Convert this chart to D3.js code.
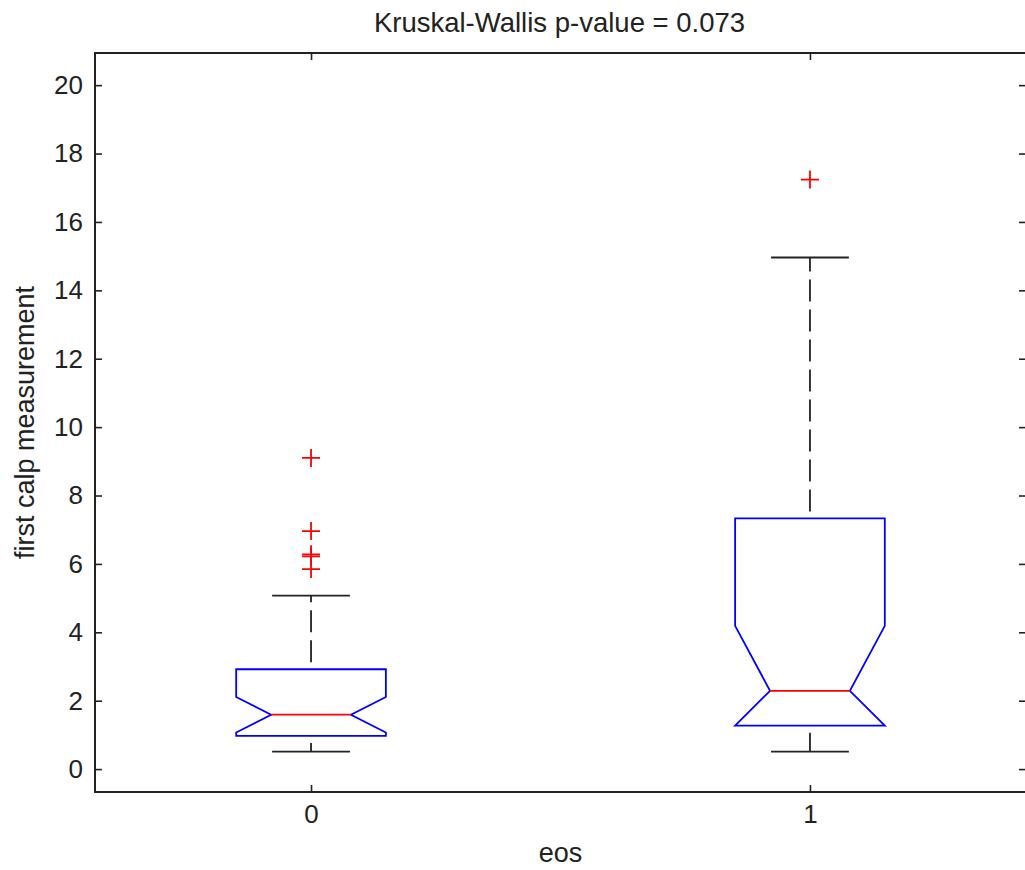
<!DOCTYPE html>
<html>
<head>
<meta charset="utf-8">
<script src="https://cdn.jsdelivr.net/npm/d3@7"></script>
<style>
  body { margin: 0; background: #fff; }
  svg text { font-family: "Liberation Sans", Arial, sans-serif; fill: #222; }
</style>
</head>
<body>
<div class="grafico"></div>
<script>
/* Datos */
const groups = ['0', '1'];
const q1 = [0.97, 1.27];
const medians = [1.59, 2.29];
const q3 = [2.92, 7.33];
const notchLo = [1.07, 1.27];
const notchHi = [2.11, 4.19];
const whiskerLo = [0.51, 0.51];
const whiskerHi = [5.07, 14.96];
const outliers = [[9.1, 6.96, 6.28, 6.22, 5.85], [17.24]];
const yTicks = [0, 2, 4, 6, 8, 10, 12, 14, 16, 18, 20];

const w = 1025;
const h = 870;
const mLeft = 95, mTop = 53, mRight = 1026, mBottom = 792;

const svg = d3.select('.grafico')
  .append('svg')
  .attr('width', w)
  .attr('height', h);

/* Escalas */
const x = d3.scaleLinear().domain([0.567, 2.433]).range([mLeft, mRight]);
const y = d3.scaleLinear().domain([-0.67, 20.94]).range([mBottom, mTop]);
const pos = (i) => x(i + 1);

const boxHalf = 0.15, notchHalf = 0.08, capHalf = 0.078;
const tickLen = 7;

/* Ejes */
const yAxis = d3.axisLeft(y).tickValues(yTicks).tickSize(-tickLen).tickPadding(12);
const gy = svg.append('g').attr('transform', `translate(${mLeft},0)`).call(yAxis);
const yAxisR = d3.axisRight(y).tickValues(yTicks).tickSize(-tickLen).tickFormat('');
const gyr = svg.append('g').attr('transform', `translate(${mRight},0)`).call(yAxisR);
const xAxis = d3.axisBottom(x).tickValues([1, 2]).tickSize(-tickLen).tickPadding(13)
  .tickFormat(d => groups[d - 1]);
const gx = svg.append('g').attr('transform', `translate(0,${mBottom})`).call(xAxis);
const xAxisT = d3.axisTop(x).tickValues([1, 2]).tickSize(-tickLen).tickFormat('');
const gxt = svg.append('g').attr('transform', `translate(0,${mTop})`).call(xAxisT);

[gy, gyr, gx, gxt].forEach(g => {
  g.select('.domain').remove();
  g.selectAll('.tick line').attr('stroke', '#222').attr('stroke-width', 1.6);
  g.selectAll('.tick text').attr('font-size', 26).attr('fill', '#222')
    .attr('font-family', '"Liberation Sans", Arial, sans-serif');
});
gx.selectAll('.tick text').attr('dy', '0.71em');

svg.append('rect')
  .attr('x', mLeft).attr('y', mTop)
  .attr('width', mRight - mLeft).attr('height', mBottom - mTop)
  .attr('fill', 'none').attr('stroke', '#222').attr('stroke-width', 2);

/* Cajas */
const boxes = svg.selectAll('g.box')
  .data(groups)
  .join('g')
  .attr('class', 'box');

// bigotes punteados
boxes.append('line')
  .attr('x1', (d, i) => pos(i)).attr('x2', (d, i) => pos(i))
  .attr('y1', (d, i) => y(q3[i])).attr('y2', (d, i) => y(whiskerHi[i]))
  .attr('stroke', '#222').attr('stroke-width', 1.8)
  .attr('stroke-dasharray', '22,8').attr('stroke-dashoffset', 23);
boxes.append('line')
  .attr('x1', (d, i) => pos(i)).attr('x2', (d, i) => pos(i))
  .attr('y1', (d, i) => y(q1[i])).attr('y2', (d, i) => y(whiskerLo[i]))
  .attr('stroke', '#222').attr('stroke-width', 1.8)
  .attr('stroke-dasharray', '22,8').attr('stroke-dashoffset', 23);

// topes
[whiskerHi, whiskerLo].forEach(arr => {
  boxes.append('line')
    .attr('x1', (d, i) => x(i + 1 - capHalf)).attr('x2', (d, i) => x(i + 1 + capHalf))
    .attr('y1', (d, i) => y(arr[i])).attr('y2', (d, i) => y(arr[i]))
    .attr('stroke', '#222').attr('stroke-width', 1.8);
});

// caja con muesca
boxes.append('path')
  .attr('d', (d, i) => {
    const c = i + 1;
    const pts = [
      [c - boxHalf, q3[i]], [c + boxHalf, q3[i]], [c + boxHalf, notchHi[i]],
      [c + notchHalf, medians[i]], [c + boxHalf, notchLo[i]], [c + boxHalf, q1[i]],
      [c - boxHalf, q1[i]], [c - boxHalf, notchLo[i]], [c - notchHalf, medians[i]],
      [c - boxHalf, notchHi[i]]
    ];
    return d3.line().x(p => x(p[0])).y(p => y(p[1]))(pts) + 'Z';
  })
  .attr('fill', 'none').attr('stroke', '#0000ff').attr('stroke-width', 1.8);

// mediana
boxes.append('line')
  .attr('x1', (d, i) => x(i + 1 - notchHalf)).attr('x2', (d, i) => x(i + 1 + notchHalf))
  .attr('y1', (d, i) => y(medians[i])).attr('y2', (d, i) => y(medians[i]))
  .attr('stroke', '#ff0000').attr('stroke-width', 1.8);

// atípicos
const outPts = outliers.flatMap((arr, i) => arr.map(v => ({ g: i, v })));
svg.selectAll('path.out')
  .data(outPts)
  .join('path')
  .attr('class', 'out')
  .attr('d', d => {
    const cx = pos(d.g), cy = y(d.v), r = 9;
    return `M${cx - r},${cy}H${cx + r}M${cx},${cy - r}V${cy + r}`;
  })
  .attr('stroke', '#ff0000').attr('stroke-width', 1.8).attr('fill', 'none');

/* Títulos */
svg.append('text')
  .attr('x', (mLeft + mRight) / 2 - 1).attr('y', 32)
  .attr('text-anchor', 'middle').attr('font-size', 27.5)
  .text('Kruskal-Wallis p-value = 0.073');

svg.append('text')
  .attr('x', (mLeft + mRight) / 2).attr('y', 862)
  .attr('text-anchor', 'middle').attr('font-size', 27)
  .text('eos');

svg.append('text')
  .attr('transform', `translate(34,${(mTop + mBottom) / 2}) rotate(-90)`)
  .attr('text-anchor', 'middle').attr('font-size', 27)
  .text('first calp measurement');
</script>
</body>
</html>
